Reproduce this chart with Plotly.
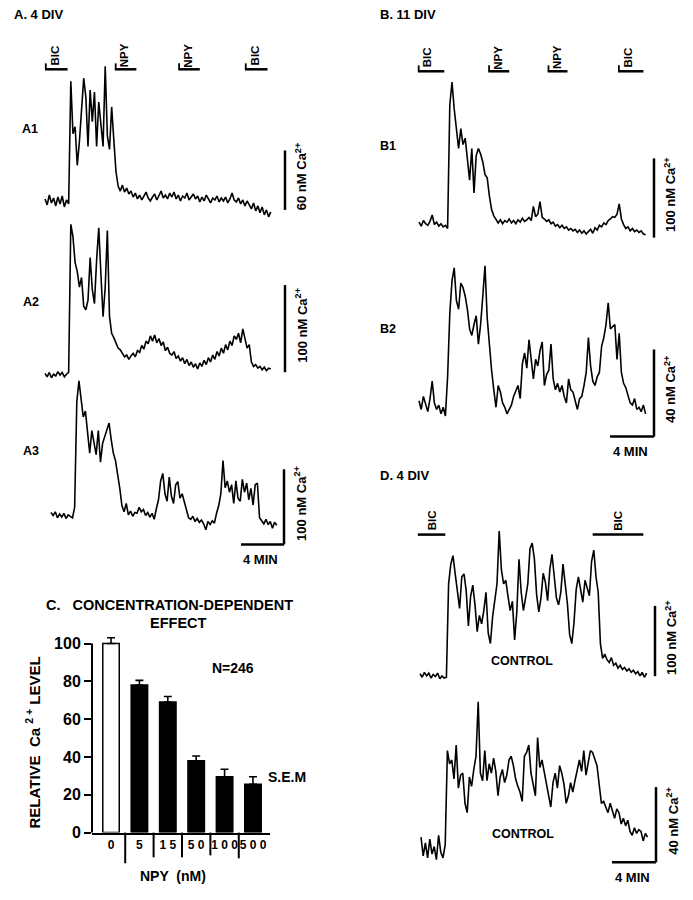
import numpy as np
import plotly.graph_objects as go

W, H = 693, 900
SAMPLE_MIN = 0.2          # sampling interval of the Ca2+ recordings (min)
FONT = "Liberation Sans, Arial, sans-serif"

# ---------------- Ca2+ traces (nM above baseline), one value every SAMPLE_MIN ----------------
A1_nM = [2, -4, 6, -2, 3, -5, 4, -3, 5, -6,
         1, -3, 121, 68, 75, 36, 60, 88, 124, 105,
         55, 112, 80, 110, 55, 100, 78, 55, 136, 66,
         52, 95, 62, 30, 15, 10, 16, 9, 13, 7,
         10, 4, 8, 2, 6, 1, 5, 9, 3, 0,
         4, 7, 1, 5, 10, 3, 6, 2, 8, 4,
         9, 2, 6, 0, 5, 3, 8, 1, 4, 7,
         2, 5, -1, 4, 0, 6, 2, -2, 3, 1,
         5, -1, 3, 0, 4, -2, 2, 8, 1, -1,
         3, -3, 1, -5, 0, -4, -8, -2, -10, -5,
         -12, -6, -14, -9, -16, -11]
A2_nM = [1, -3, 2, -4, 0, -2, 3, -1, 2, -3,
         0, 2, 172, 158, 128, 118, 100, 111, 78, 74,
         85, 134, 97, 81, 131, 168, 115, 66, 100, 165,
         66, 47, 42, 35, 30, 28, 24, 20, 22, 17,
         21, 24, 20, 27, 25, 33, 29, 38, 35, 44,
         38, 45, 36, 41, 33, 37, 27, 31, 24, 22,
         26, 18, 21, 15, 19, 12, 17, 10, 14, 8,
         12, 6, 13, 9, 16, 11, 19, 14, 22, 17,
         26, 21, 30, 24, 34, 28, 38, 33, 44, 40,
         47, 36, 52, 41, 30, 34, 14, 9, 11, 7,
         9, 5, 8, 4, 7, 6]
A3_nM = [3, -1, 4, -4, 1, -3, 2, -5, 0, -2,
         -4, 10, 150, 178, 150, 130, 138, 112, 82, 112,
         98, 80, 112, 70, 95, 104, 112, 122, 100, 82,
         72, 55, 35, 12, 4, 15, 0, 5, -2, 3,
         2, 10, 4, 7, -1, 3, -3, 2, -6, 8,
         20, 45, 55, 28, 18, 50, 25, 15, 40, 44,
         22, 28, 16, 8, -4, -6, -2, -9, -5, -10,
         -7, -12, -20, -9, -13, -8, -11, 2, 12, 28,
         72, 36, 45, 30, 40, 15, 45, 22, 18, 47,
         30, 42, 20, 35, 13, 40, 42, -4, -8, -12,
         -6, -13, -9, -18, -10, -14]
B1_nM = [2, -3, 4, 0, -2, 3, 11, -1, 2, -3,
         0, -4, -2, -6, 150, 179, 145, 118, 95, 120,
         100, 108, 82, 55, 95, 39, 86, 95, 88, 78,
         62, 58, 35, 18, 10, 6, 1, 5, 0, 4,
         2, 6, 1, 4, 0, 5, 2, 7, 3, 5,
         8, 4, 22, 9, 12, 28, 8, 6, 3, 5,
         0, 2, -3, -1, -5, -2, -6, -4, -8, -6,
         -9, -7, -11, -8, -12, -9, -13, -10, -7, -12,
         -5, -8, -2, -4, 1, -1, 4, 6, 9, 8,
         12, 25, 6, -1, -6, -4, -9, -6, -10, -8,
         -11, -9, -13, -14]
B2_nM = [1, -3, 3, -1, -4, 2, 10, 0, -3, -1,
         -5, -2, -6, 12, 41, 56, 62, 47, 43, 55,
         53, 49, 43, 34, 31, 36, 40, 27, 36, 49,
         63, 39, 26, 15, 6, -2, 8, 5, 0, -2,
         -5, -3, -1, 3, 6, 8, 2, 18, 23, 16,
         29, 21, 11, 20, 17, 24, 28, 8, 13, 15,
         27, 11, 6, 9, 5, 8, 3, 0, 11, 6,
         5, 1, -3, 2, 3, 8, 14, 30, 17, 10,
         8, 12, 14, 26, 30, 36, 46, 34, 35, 36,
         20, 32, 14, 9, 7, 3, 0, -1, 2, -3,
         -2, -4, -1, -5]
D1_nM = [2, -3, 4, -1, 3, -4, 1, -2, 3, -5,
         -1, -4, -3, 130, 158, 170, 144, 120, 95, 140,
         144, 120, 70, 112, 128, 100, 62, 85, 73, 92,
         118, 60, 45, 83, 110, 130, 205, 150, 130, 135,
         112, 92, 105, 50, 90, 165, 118, 92, 110, 130,
         180, 188, 165, 115, 90, 110, 145, 132, 106, 150,
         172, 140, 110, 100, 118, 158, 128, 102, 58, 45,
         75, 122, 140, 120, 104, 135, 122, 113, 162, 178,
         140, 118, 45, 24, 30, 22, 18, 25, 14, 17,
         10, 14, 8, 11, 6, 9, 4, 7, 2, 5,
         -1, 4, -3, 3]
D2_nM = [6, -4, 3, -5, 5, -3, 1, -6, 7, -2,
         -5, 2, 52, 45, 47, 37, 55, 32, 39, 40,
         24, 19, 38, 33, 42, 49, 78, 40, 36, 52,
         36, 45, 40, 48, 41, 28, 38, 42, 35, 39,
         47, 49, 44, 37, 33, 30, 25, 49, 51, 55,
         40, 33, 28, 59, 43, 47, 41, 36, 28, 22,
         35, 40, 32, 44, 40, 34, 24, 28, 35, 30,
         36, 42, 47, 41, 52, 39, 46, 52, 51, 47,
         44, 34, 24, 25, 22, 19, 24, 20, 16, 21,
         19, 13, 16, 12, 15, 9, 7, 11, 8, 10,
         9, 4, 8, 6]

# drug applications (label, start min, end min)
A_DRUGS = [("BIC", 0.0, 2.1), ("NPY", 6.5, 8.5), ("NPY", 12.4, 14.4), ("BIC", 18.6, 20.7)]
B_DRUGS = [("BIC", -0.1, 2.3), ("NPY", 6.3, 8.2), ("NPY", 11.7, 13.5), ("BIC", 18.1, 20.4)]
D_DRUGS = [("BIC", -0.2, 2.3), ("BIC", 15.7, 20.3)]

# ---------------- panel C: concentration dependence ----------------
NPY_LABELS = ["0", "5", "1 5", "5 0", "1 0 0", "5 0 0"]
REL_CA = [100, 78, 69, 38, 29.5, 25.5]
REL_CA_SEM = [3, 2.5, 3, 2.5, 4, 4]
N_CELLS = 246

# ---------------- helpers ----------------
def fx(px):
    return px / W

def fy(py):
    return 1 - py / H

def ann(text, xpx, ypx, size, xanchor="center", angle=0):
    return dict(text=text, x=fx(xpx), y=fy(ypx), xref="paper", yref="paper",
                xanchor=xanchor, yanchor="middle", showarrow=False, textangle=angle,
                font=dict(family=FONT, size=size, color="black", weight=700))

def seg(x0, y0, x1, y1, w=2.5):
    return dict(type="line", xref="paper", yref="paper", x0=fx(x0), y0=fy(y0),
                x1=fx(x1), y1=fy(y1), line=dict(color="black", width=w))

fig = go.Figure()
layout = {}
shapes = []
annotations = []

# trace panels: pixel placement (x0 start px, base = baseline px, ppn px/nM, ppm px/min)
panels = [
    dict(name="A1", y=A1_nM, x0=45, base=203, ppn=1.00, ppm=10.75, scale=60, sbx=285, sby=212, tbar=False, lab=(20, 130)),
    dict(name="A2", y=A2_nM, x0=45, base=378, ppn=0.88, ppm=10.75, scale=100, sbx=285, sby=376, tbar=False, lab=(21, 305)),
    dict(name="A3", y=A3_nM, x0=51, base=520, ppn=0.76, ppm=10.75, scale=100, sbx=284, sby=550, tbar=True, lab=(21, 456)),
    dict(name="B1", y=B1_nM, x0=419, base=226, ppn=0.80, ppm=11, scale=100, sbx=654, sby=240, tbar=False, lab=(378, 147)),
    dict(name="B2", y=B2_nM, x0=419, base=407, ppn=2.20, ppm=11, scale=40, sbx=654, sby=441, tbar=True, lab=(378, 332)),
    dict(name="D1", y=D1_nM, x0=420, base=682, ppn=0.71, ppm=11, scale=100, sbx=655, sby=683, tbar=False, lab=None),
    dict(name="D2", y=D2_nM, x0=421, base=857, ppn=1.90, ppm=11, scale=40, sbx=656, sby=871, tbar=True, lab=None),
]

for i, p in enumerate(panels, start=1):
    y = np.array(p["y"], dtype=float)
    t = np.arange(len(y)) * SAMPLE_MIN
    tr = [-0.3, float(t[-1]) + 0.3]
    yr = [float(y.min()) - 4, float(y.max()) + 4]
    left = p["x0"] + tr[0] * p["ppm"]
    right = p["x0"] + tr[1] * p["ppm"]
    top = p["base"] - yr[1] * p["ppn"]
    bottom = p["base"] - yr[0] * p["ppn"]
    xk = "x" if i == 1 else f"x{i}"
    yk = "y" if i == 1 else f"y{i}"
    fig.add_trace(go.Scatter(x=t, y=y, xaxis=xk, yaxis=yk, mode="lines",
                             line=dict(color="black", width=1.6),
                             hoverinfo="skip", showlegend=False))
    layout["xaxis" if i == 1 else f"xaxis{i}"] = dict(domain=[fx(left), fx(right)], range=tr,
                                                      visible=False, anchor=yk, fixedrange=True)
    layout["yaxis" if i == 1 else f"yaxis{i}"] = dict(domain=[fy(bottom), fy(top)], range=yr,
                                                      visible=False, anchor=xk, fixedrange=True)
    # calibration bars
    bar_top = p["sby"] - p["scale"] * p["ppn"]
    shapes.append(seg(p["sbx"], p["sby"], p["sbx"], bar_top))
    annotations.append(ann(f"{p['scale']} nM Ca<sup>2+</sup>", p["sbx"] + 16,
                           (p["sby"] + bar_top) / 2 - 3, 13, angle=-90))
    if p["tbar"]:
        shapes.append(seg(p["sbx"] - 4 * p["ppm"], p["sby"], p["sbx"], p["sby"]))
        annotations.append(ann("4 MIN", p["sbx"] - 2 * p["ppm"] - 2, p["sby"] + 15, 13))
    if p["lab"]:
        annotations.append(ann(p["name"], p["lab"][0], p["lab"][1], 12.5, xanchor="left"))

# drug application bars
def drug_bars(drugs, x0, ppm, ybar, tick):
    for name, s, e in drugs:
        xs, xe = x0 + s * ppm, x0 + e * ppm
        shapes.append(seg(xs, ybar, xe, ybar, 2.5))
        if tick:
            shapes.append(seg(xs + 0.8, ybar - 6, xs + 0.8, ybar, 1.8))
            annotations.append(ann(name, xs + 10, ybar - 14, 11.5, angle=-90))
        else:
            annotations.append(ann(name, (xs + xe) / 2, ybar - 14, 11.5, angle=-90))

drug_bars(A_DRUGS, 45, 10.75, 70, True)
drug_bars(B_DRUGS, 419, 11, 72, True)
drug_bars(D_DRUGS, 420, 11, 540, False)

# panel titles / labels
annotations += [
    ann("A. 4 DIV", 12, 15, 13, xanchor="left"),
    ann("B. 11 DIV", 378, 15, 13, xanchor="left"),
    ann("D. 4 DIV", 378, 480, 13, xanchor="left"),
    ann("CONTROL", 522, 668, 12.5),
    ann("CONTROL", 523, 842, 12.5),
]

# ---------------- bar chart (panel C) ----------------
C_LEFT, C_RIGHT, C_ZERO, C_PPU = 92, 270, 841, 1.91
XR = [-0.67, 5.6]
YR = [0, 106]
fig.add_trace(go.Bar(
    x=NPY_LABELS, y=REL_CA, width=0.58, xaxis="x8", yaxis="y8",
    marker=dict(color=["white"] + ["black"] * 5, line=dict(color="black", width=1.5)),
    error_y=dict(type="data", array=REL_CA_SEM, arrayminus=[0] * len(REL_CA), symmetric=False,
                 color="black", thickness=1.6, width=4),
    hoverinfo="skip", showlegend=False))
layout["xaxis8"] = dict(domain=[fx(C_LEFT), fx(C_RIGHT)], range=XR, anchor="y8", type="category",
                        showline=True, linewidth=2, linecolor="black", ticks="", showgrid=False,
                        zeroline=False, fixedrange=True, tickangle=0,
                        tickfont=dict(family=FONT, size=12, color="black", weight=700))
layout["yaxis8"] = dict(domain=[fy(C_ZERO), fy(C_ZERO - YR[1] * C_PPU)], range=YR, anchor="x8",
                        showline=False, showgrid=False, zeroline=False, ticks="outside",
                        ticklen=7, tickwidth=2, tickcolor="black",
                        tickvals=[0, 20, 40, 60, 80, 100], fixedrange=True,
                        tickfont=dict(family=FONT, size=16, color="black", weight=700))
# y axis line up to 100
shapes.append(seg(C_LEFT, C_ZERO, C_LEFT, C_ZERO - 100 * C_PPU, 2))
# category separators below the axis
SEP_LEN = [31, 25, 25, 23, 26]
for c in range(len(NPY_LABELS) - 1):
    xp = C_LEFT + (c + 0.5 - XR[0]) / (XR[1] - XR[0]) * (C_RIGHT - C_LEFT)
    shapes.append(seg(xp, C_ZERO, xp, C_ZERO + SEP_LEN[c], 2))

annotations += [
    ann("C.   CONCENTRATION-DEPENDENT", 169, 611, 14.5),
    ann("EFFECT", 178, 629, 14.5),
    ann(f"N={N_CELLS}", 233, 675, 14),
    ann("S.E.M", 287, 785, 14),
    ann("NPY  (nM)", 173, 885, 14),
    ann("RELATIVE  Ca <sup>2 +</sup> LEVEL", 33, 750, 15, angle=-90),
]

fig.update_layout(
    width=W, height=H, margin=dict(l=0, r=0, t=0, b=0),
    paper_bgcolor="white", plot_bgcolor="rgba(0,0,0,0)",
    showlegend=False, shapes=shapes, annotations=annotations,
    font=dict(family=FONT, color="black"),
    **layout)

fig.write_html("out.html", config={"displayModeBar": False},
               post_script="document.body.style.margin='0px';document.body.style.overflow='hidden';")
